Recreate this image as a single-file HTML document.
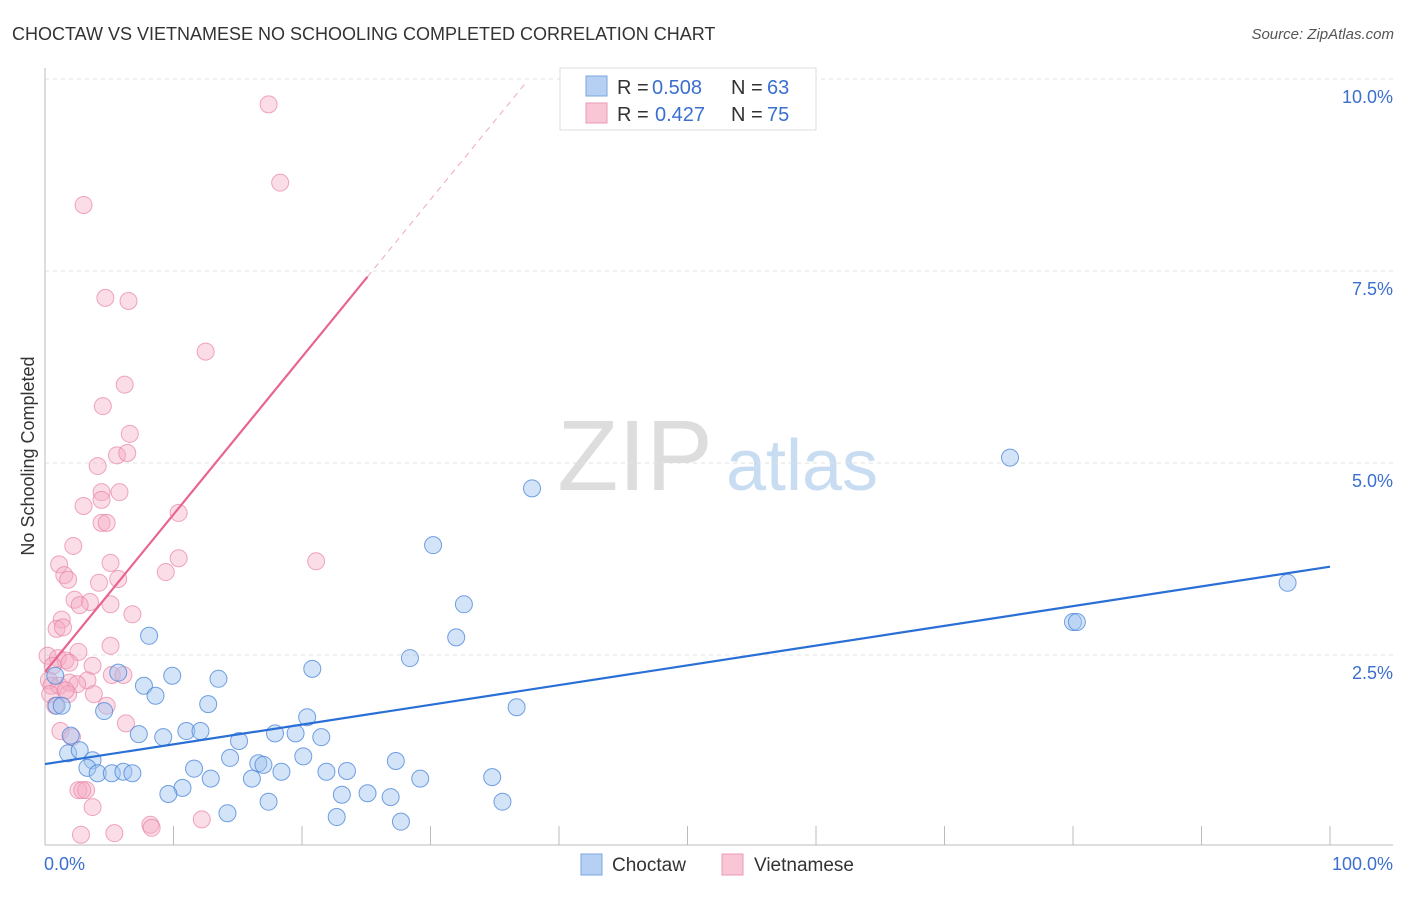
<!DOCTYPE html>
<html><head><meta charset="utf-8"><style>
body{margin:0;background:#fff;font-family:"Liberation Sans",sans-serif;}
svg text{font-family:"Liberation Sans",sans-serif;}
</style></head><body>
<svg id="chart" width="1406" height="892" xmlns="http://www.w3.org/2000/svg">
<text x="12" y="40" font-size="18" fill="#333">CHOCTAW VS VIETNAMESE NO SCHOOLING COMPLETED CORRELATION CHART</text>
<text x="1394" y="39" font-size="15" fill="#555" text-anchor="end" font-style="italic">Source: ZipAtlas.com</text>
<text transform="translate(34,456) rotate(-90)" font-size="18" fill="#333" text-anchor="middle">No Schooling Completed</text>
<g>
<text x="635" y="490" font-size="100" fill="#ddd" text-anchor="middle" font-family="Liberation Serif,serif">ZIP</text>
<text x="802" y="490" font-size="72" fill="#c8dcf2" text-anchor="middle">atlas</text>
</g>
<g id="grid"></g>
<g id="axes"></g>
<g id="pts"></g>
<g id="trends"></g>
<g>
<rect x="560" y="68" width="256" height="62" fill="#fff" stroke="#ddd"/>
<rect x="586" y="76" width="21" height="20" fill="#b5d0f3" stroke="#7aa6e2"/>
<rect x="586" y="103" width="21" height="20" fill="#f8c6d5" stroke="#eb9ab4"/>
<text x="617" y="94" font-size="20" fill="#333">R =</text>
<text x="652" y="94" font-size="20" fill="#3b6fcf">0.508</text>
<text x="731" y="94" font-size="20" fill="#333">N =</text>
<text x="767" y="94" font-size="20" fill="#3b6fcf">63</text>
<text x="617" y="121" font-size="20" fill="#333">R =</text>
<text x="655" y="121" font-size="20" fill="#3b6fcf">0.427</text>
<text x="731" y="121" font-size="20" fill="#333">N =</text>
<text x="767" y="121" font-size="20" fill="#3b6fcf">75</text>
</g>
<g>
<rect x="581" y="854" width="21" height="21" fill="#b5d0f3" stroke="#7aa6e2"/>
<text x="612" y="871" font-size="19" fill="#333">Choctaw</text>
<rect x="722" y="854" width="21" height="21" fill="#f8c6d5" stroke="#eb9ab4"/>
<text x="754" y="871" font-size="19" fill="#333">Vietnamese</text>
</g>
</svg>
<script>
const yTicks=[2.5,5,7.5,10];
const yTickLabels=["2.5%","5.0%","7.5%","10.0%"];
const xTicks=[10,20,30,40,50,60,70,80,90,100];
const xEndLabels=["0.0%","100.0%"];
const choctawX=[75.1,96.7,80.0,80.3,37.9,30.2,32.6,32.0,28.4,20.8,36.7,8.1,5.7,9.9,13.5,7.7,8.6,4.6,12.7,0.9,1.3,20.4,11.0,12.1,7.3,9.2,17.9,15.1,19.5,21.5,2.0,1.8,2.7,3.7,20.1,14.4,16.6,17.0,27.3,3.3,4.1,5.2,6.1,6.8,11.6,18.4,21.9,23.5,29.2,34.8,10.7,9.6,12.9,16.1,23.1,25.1,26.9,17.4,35.6,14.2,22.7,27.7,0.8];
const choctawY=[5.07,3.44,2.93,2.93,4.67,3.93,3.16,2.73,2.46,2.32,1.82,2.75,2.27,2.23,2.19,2.10,1.97,1.77,1.86,1.84,1.84,1.69,1.51,1.51,1.47,1.43,1.48,1.38,1.48,1.43,1.45,1.22,1.26,1.13,1.18,1.16,1.09,1.07,1.12,1.03,0.96,0.96,0.98,0.96,1.02,0.98,0.98,0.99,0.89,0.91,0.77,0.69,0.89,0.89,0.68,0.70,0.65,0.59,0.59,0.44,0.39,0.33,2.23];
const vietX=[17.4,18.3,3.0,4.7,6.5,12.5,6.2,4.5,6.6,5.6,6.4,4.1,4.4,5.8,4.4,3.0,10.4,4.4,4.8,2.2,10.4,1.1,5.1,9.4,21.1,1.5,1.8,4.2,5.7,2.3,3.5,2.7,5.1,6.8,1.3,0.9,1.4,5.1,2.6,0.2,1.0,1.6,1.9,3.7,0.6,5.2,6.1,3.3,0.3,0.5,1.1,1.9,2.5,3.8,1.8,0.4,6.3,1.2,2.1,2.6,3.2,2.9,3.7,8.2,8.3,12.2,2.8,5.4,0.8,4.8,1.6];
const vietY=[9.67,8.65,8.36,7.15,7.11,6.45,6.02,5.74,5.38,5.10,5.13,4.96,4.62,4.62,4.52,4.44,4.35,4.22,4.22,3.92,3.76,3.68,3.70,3.58,3.72,3.54,3.48,3.44,3.49,3.22,3.19,3.15,3.16,3.03,2.96,2.84,2.86,2.62,2.54,2.49,2.46,2.43,2.40,2.36,2.36,2.24,2.24,2.17,2.17,2.10,2.10,2.14,2.12,1.99,1.99,1.99,1.61,1.51,1.43,0.74,0.74,0.74,0.52,0.29,0.25,0.36,0.16,0.18,1.84,1.84,2.04];
const choctawTrend=[1.08,3.65];
const vietTrend=[2.28,0.205];
const NS='http://www.w3.org/2000/svg';
const X=v=>45+v*12.85, Y=v=>847-v*76.8;
function mk(t,a,p){const e=document.createElementNS(NS,t);for(const k in a)e.setAttribute(k,a[k]);document.getElementById(p).appendChild(e);return e;}
yTicks.forEach((t,i)=>{
 const g=mk('line',{x1:45,x2:1393,y1:Y(t),y2:Y(t),stroke:'#e2e2e2','stroke-dasharray':'4,4'},'grid');
 
 
 const l=mk('text',{x:1393,y:Y(t)+24,'font-size':18,fill:'#3b6fcf','text-anchor':'end'},'axes');
 l.textContent=yTickLabels[i];
 
 
});
const ya=mk('line',{x1:45,x2:45,y1:68,y2:845,stroke:'#bbb'},'axes');


const xa=mk('line',{x1:45,x2:1393,y1:845,y2:845,stroke:'#bbb'},'axes');


xTicks.forEach(t=>{
 const k=mk('line',{x1:X(t),x2:X(t),y1:826,y2:845,stroke:'#bbb'},'axes');
 
 
});
[[0,'start',44],[100,'end',1393]].forEach((d,i)=>{
 const l=mk('text',{x:d[2],y:870,'font-size':18,fill:'#3b6fcf','text-anchor':d[1]},'axes');
 l.textContent=xEndLabels[i];
 
 
});
vietX.forEach((x,i)=>{
 const c=mk('circle',{cx:X(x),cy:Y(vietY[i]),r:8.5,fill:'rgba(245,170,195,0.4)',stroke:'rgba(232,130,165,0.7)'},'pts');
 
 
});
choctawX.forEach((x,i)=>{
 const c=mk('circle',{cx:X(x),cy:Y(choctawY[i]),r:8.5,fill:'rgba(160,195,240,0.45)',stroke:'rgba(70,130,215,0.75)'},'pts');
 
 
});
const bt=mk('line',{x1:X(0),y1:Y(choctawTrend[0]),x2:X(100),y2:Y(choctawTrend[1]),stroke:'#2a6fd6','stroke-width':2.2},'trends');


const pt=mk('line',{x1:X(0),y1:Y(vietTrend[0]),x2:X(25.1),y2:Y(vietTrend[0]+vietTrend[1]*25.1),stroke:'#e8658f','stroke-width':2.2},'trends');


const pd=mk('line',{x1:X(25.1),y1:Y(vietTrend[0]+vietTrend[1]*25.1),x2:X(37.4),y2:Y(vietTrend[0]+vietTrend[1]*37.4),stroke:'#f0a8bf','stroke-width':1,'stroke-dasharray':'6,5'},'trends');


</script>
</body></html>
